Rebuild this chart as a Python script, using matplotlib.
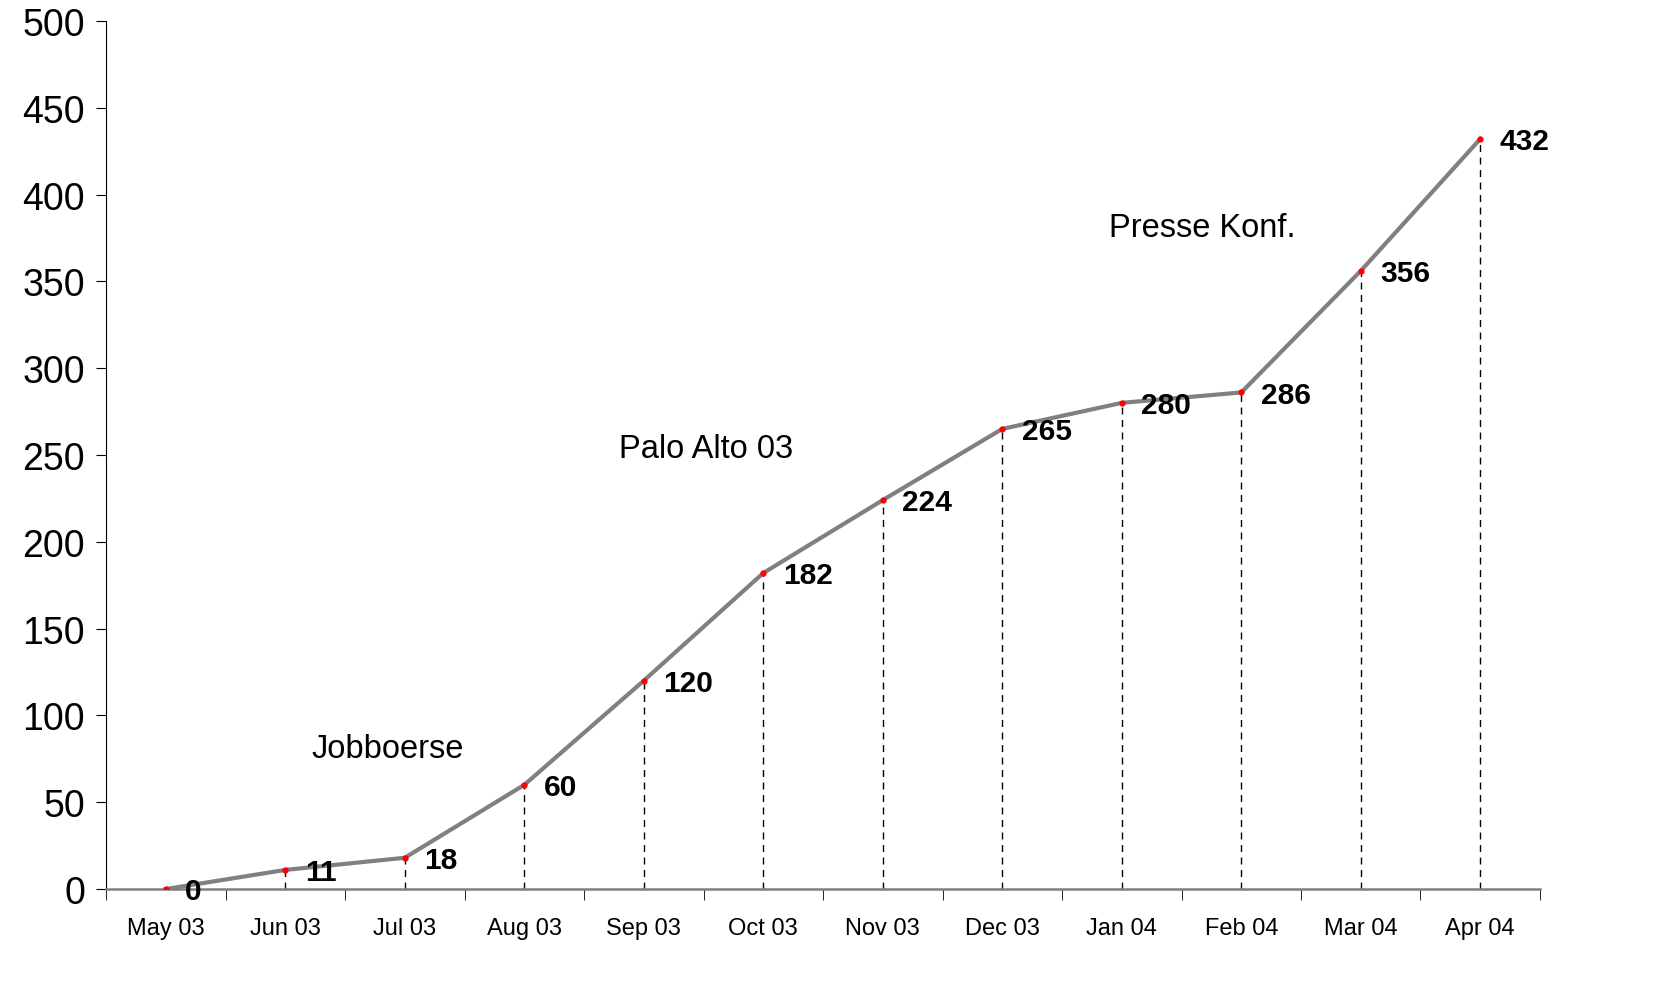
import numpy as np
import matplotlib.pyplot as plt

plt.rcParams['font.family'] = ['Liberation Sans', 'DejaVu Sans']

# data
months = ['May 03', 'Jun 03', 'Jul 03', 'Aug 03', 'Sep 03', 'Oct 03',
          'Nov 03', 'Dec 03', 'Jan 04', 'Feb 04', 'Mar 04', 'Apr 04']
values = [0, 11, 18, 60, 120, 182, 224, 265, 280, 286, 356, 432]

events = ['Jobboerse', 'Palo Alto 03', 'Presse Konf.']
event_x = [1.86, 4.52, 8.67]
event_y = [81, 254, 381]

fig = plt.figure(figsize=(16.6, 9.95), dpi=100)
ax = fig.add_axes([0.0639, 0.1055, 0.8638, 0.8725])

x = np.arange(len(months))

# dashed drop lines
ax.vlines(x, 0, values, colors='black', linestyles=(0, (5, 4)), linewidth=1)

ax.plot(x, values, color='#808080', linewidth=3, zorder=3)
ax.plot(x, values, 'o', color='red', markersize=3.5, zorder=4)

for xi, v in zip(x, values):
    ax.annotate(str(v), (xi, v), xytext=(14, -1.5), textcoords='offset points',
                fontsize=21.5, fontweight='bold', va='center', ha='left')

for name, ex, ey in zip(events, event_x, event_y):
    ax.text(ex, ey, name, fontsize=23.5, ha='center', va='center')

ax.set_xlim(-0.5, len(months) - 0.5)
ax.set_ylim(0, 500)
ax.set_yticks(range(0, 501, 50))
ax.tick_params(axis='y', labelsize=27, length=7, direction='out', pad=8)
ax.set_xticks(x)
ax.set_xticklabels(months)
ax.set_xticks(np.arange(-0.5, len(months)), minor=True)
ax.tick_params(axis='x', which='major', length=0, labelsize=17, pad=20)
ax.tick_params(axis='x', which='minor', length=8, direction='out')

ax.spines['top'].set_visible(False)
ax.spines['right'].set_visible(False)
ax.spines['bottom'].set_color('#808080')
ax.spines['bottom'].set_linewidth(1.8)

fig.savefig('out.png', dpi=100)
